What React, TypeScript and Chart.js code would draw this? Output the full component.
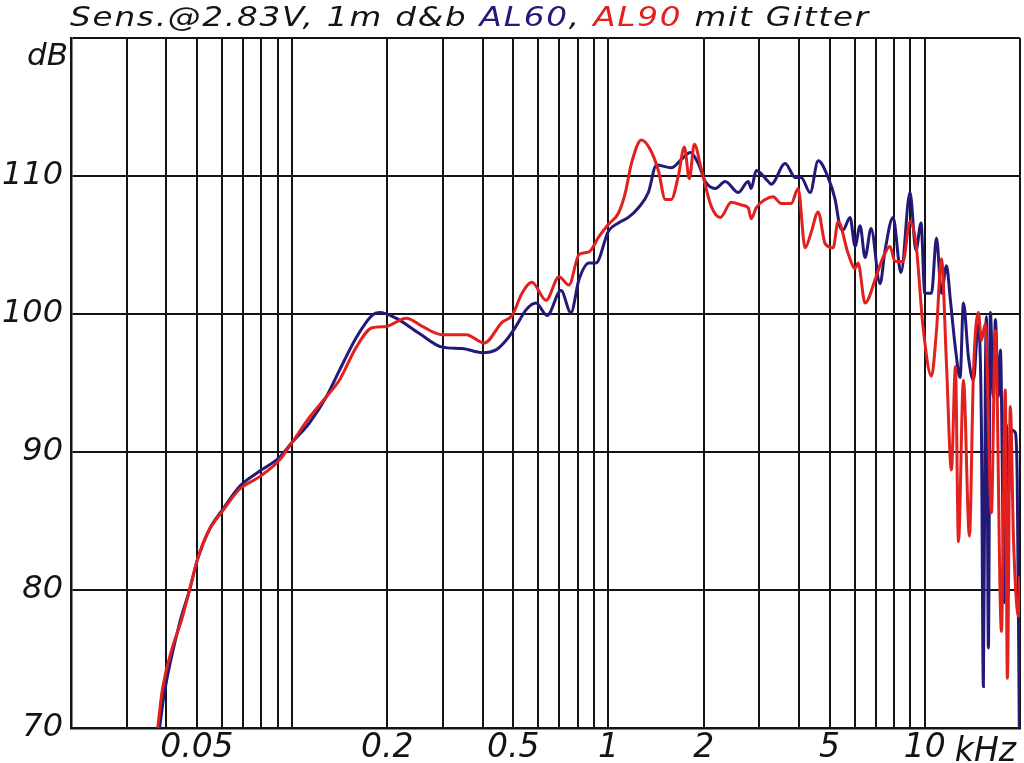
import React, { useEffect, useRef } from 'react';
import { Chart, registerables } from 'chart.js';

Chart.register(...registerables);

// ---- data (frequency in kHz, level in dB) ----
const freqAL60 = [
  0.0381, 0.0395, 0.0441, 0.0474, 0.0502, 0.0548, 0.0602, 0.0682, 0.0788, 0.0911,
  0.1, 0.1134, 0.1283, 0.141, 0.1596, 0.179, 0.1886, 0.213, 0.252, 0.298,
  0.345, 0.399, 0.441, 0.475, 0.51, 0.549, 0.59, 0.64, 0.708, 0.761,
  0.807, 0.868, 0.913, 1.0, 1.075, 1.156, 1.244, 1.337, 1.418, 1.58,
  1.7, 1.815, 1.923, 2.024, 2.177, 2.34, 2.573, 2.766, 2.827, 2.932,
  3.199, 3.27, 3.62, 3.894, 4.067, 4.342, 4.601, 4.947, 5.206, 5.399,
  5.518, 5.806, 6.021, 6.244, 6.475, 6.764, 7.222, 7.489, 7.937, 8.41,
  8.98, 9.38, 9.73, 10.0, 10.5, 10.89, 11.29, 11.71, 12.05, 12.5,
  12.93, 13.25, 13.74, 14.25, 14.77, 15.1, 15.32, 15.54, 15.66, 15.89,
  16.12, 16.48, 16.72, 17.09, 17.34, 17.85, 18.1, 18.37, 18.78, 19.33,
  19.6, 19.9,
];
const dbAL60 = [
  70.0, 72.6, 77.6, 80.0, 82.2, 84.4, 85.8, 87.5, 88.6, 89.6,
  90.7, 92.1, 94.0, 95.9, 98.3, 99.9, 100.1, 99.7, 98.6, 97.6,
  97.5, 97.2, 97.4, 98.1, 99.1, 100.3, 100.8, 99.9, 101.7, 100.1,
  102.5, 103.7, 103.7, 106.0, 106.6, 107.0, 107.7, 108.8, 110.8, 110.6,
  111.2, 111.7, 110.9, 109.6, 109.1, 109.6, 108.8, 109.6, 109.1, 110.4,
  109.6, 109.4, 110.9, 109.9, 109.9, 108.8, 111.1, 109.9, 108.3, 106.3,
  106.1, 107.0, 104.9, 106.4, 104.1, 106.2, 102.2, 104.6, 107.0, 103.0,
  108.8, 104.6, 106.6, 101.5, 101.5, 105.5, 101.5, 103.5, 101.0, 97.5,
  95.4, 100.8, 96.9, 95.2, 99.3, 92.0, 73.0, 95.0, 99.8, 75.8,
  100.1, 94.0, 99.6, 94.0, 97.4, 79.1, 92.0, 87.0, 91.6, 91.4,
  88.0, 70.0,
];
const freqAL90 = [
  0.0376, 0.0389, 0.0419, 0.0447, 0.0474, 0.0502, 0.0548, 0.0602, 0.0682, 0.0788,
  0.0911, 0.1, 0.1134, 0.1283, 0.141, 0.1596, 0.179, 0.1985, 0.2295, 0.258,
  0.298, 0.355, 0.405, 0.461, 0.496, 0.533, 0.573, 0.635, 0.698, 0.75,
  0.807, 0.868, 0.933, 1.0, 1.075, 1.131, 1.182, 1.271, 1.357, 1.438,
  1.513, 1.58, 1.663, 1.738, 1.802, 1.868, 1.966, 2.114, 2.257, 2.445,
  2.63, 2.766, 2.827, 2.932, 3.131, 3.318, 3.516, 3.782, 3.978, 4.186,
  4.373, 4.601, 4.842, 5.131, 5.321, 5.722, 6.021, 6.155, 6.475, 7.015,
  7.38, 7.765, 8.052, 8.534, 8.98, 9.38, 9.87, 10.5, 10.89, 11.29,
  11.71, 12.14, 12.5, 12.78, 13.25, 13.84, 14.25, 14.77, 15.1, 15.54,
  16.24, 16.72, 17.47, 17.97, 18.24, 18.64, 19.08, 19.8, 19.95,
];
const dbAL90 = [
  70.0, 72.8, 75.9, 77.8, 80.0, 82.2, 84.4, 85.7, 87.3, 88.2,
  89.4, 90.7, 92.5, 94.0, 95.2, 97.6, 99.0, 99.1, 99.7, 99.1,
  98.5, 98.5, 97.9, 99.4, 99.9, 101.5, 102.3, 101.0, 102.7, 102.1,
  104.3, 104.5, 105.6, 106.5, 107.3, 108.8, 110.9, 112.6, 111.9, 110.4,
  108.3, 108.3, 110.0, 112.1, 109.8, 112.3, 110.5, 107.8, 107.0, 108.1,
  107.9, 107.7, 106.9, 107.7, 108.3, 108.5, 108.0, 108.0, 109.1, 104.8,
  105.9, 107.4, 105.1, 104.8, 106.7, 104.4, 103.3, 103.7, 100.8, 102.7,
  104.1, 104.9, 103.8, 103.8, 106.7, 105.1, 99.1, 95.5, 98.8, 104.0,
  96.4, 88.7, 96.2, 83.5, 95.2, 83.9, 95.7, 100.1, 98.1, 99.3,
  85.6, 98.8, 77.0, 94.5, 73.6, 93.3, 83.6, 78.1, 81.0,
];

const xGridValues = [
  0.02, 0.03, 0.04, 0.05, 0.06, 0.07, 0.08, 0.09,
  0.1, 0.2, 0.3, 0.4, 0.5, 0.6, 0.7, 0.8, 0.9,
  1, 2, 3, 4, 5, 6, 7, 8, 9,
  10, 20,
];
const xTickValues = [0.05, 0.2, 0.5, 1, 2, 5, 10];
const xTickLabels = ['0.05', '0.2', '0.5', '1', '2', '5', '10'];
const yTickValues = [70, 80, 90, 100, 110, 120];
const yTickLabels = ['70', '80', '90', '100', '110', ''];

const BLUE = '#231a78';
const RED = '#e2201e';
const INK = '#141414';

const titleParts = [
  { text: 'Sens.@2.83V, 1m d&b ', color: INK },
  { text: 'AL60', color: BLUE },
  { text: ', ', color: INK },
  { text: 'AL90', color: RED },
  { text: ' mit Gitter', color: INK },
];

const FONT = '"DejaVu Sans", "Liberation Sans", sans-serif';

const textPlugin = {
  id: 'extraTexts',
  afterDraw(chart: any) {
    const ctx = chart.ctx as CanvasRenderingContext2D;
    const area = chart.chartArea;
    ctx.save();
    // title: slightly stretched glyphs + a little tracking to span the plot width
    ctx.font = `italic 27px ${FONT}`;
    ctx.textBaseline = 'alphabetic';
    ctx.textAlign = 'left';
    const full = titleParts.map((p) => p.text).join('');
    (ctx as any).letterSpacing = '1.5px';
    const w0 = ctx.measureText(full).width;
    const sx = 800 / w0;
    ctx.translate(area.left - 1, 26);
    ctx.scale(sx, 1);
    let x = 0;
    for (const p of titleParts) {
      ctx.fillStyle = p.color;
      ctx.fillText(p.text, x, 0);
      x += ctx.measureText(p.text).width;
    }
    ctx.restore();
    ctx.save();
    (ctx as any).letterSpacing = '0px';
    // dB unit
    ctx.fillStyle = INK;
    ctx.font = `italic 31px ${FONT}`;
    ctx.textAlign = 'right';
    ctx.textBaseline = 'alphabetic';
    ctx.fillText('dB', area.left - 3, 65);
    // kHz unit
    ctx.font = `italic 33px ${FONT}`;
    ctx.textAlign = 'left';
    const x10 = chart.scales.x.getPixelForValue(10);
    ctx.fillText('kHz', x10 + 30, area.bottom + 33);
    ctx.restore();
  },
};

export default function App() {
  const ref = useRef<HTMLCanvasElement>(null);
  useEffect(() => {
    const canvas = ref.current;
    if (!canvas) return;
    const chart = new Chart(canvas, {
      type: 'line',
      data: {
        datasets: [
          {
            label: 'AL90',
            data: freqAL90.map((f, i) => ({ x: f, y: dbAL90[i] })),
            borderColor: RED,
            borderWidth: 3,
            pointRadius: 0,
            cubicInterpolationMode: 'monotone',
            order: 0,
          },
          {
            label: 'AL60',
            data: freqAL60.map((f, i) => ({ x: f, y: dbAL60[i] })),
            borderColor: BLUE,
            borderWidth: 3,
            pointRadius: 0,
            cubicInterpolationMode: 'monotone',
            order: 1,
          },
        ],
      },
      options: {
        animation: false,
        responsive: false,
        devicePixelRatio: 1,
        layout: { padding: { top: 38, right: 4, left: 0, bottom: 0 } },
        plugins: {
          legend: { display: false },
          title: { display: false },
          tooltip: { enabled: false },
        },
        scales: {
          x: {
            type: 'logarithmic',
            min: 0.02,
            max: 20,
            afterBuildTicks: (scale: any) => {
              scale.ticks = xGridValues.map((v) => ({ value: v }));
            },
            afterFit: (scale: any) => {
              scale.height = 35;
            },
            grid: { color: INK, lineWidth: 2, drawTicks: false },
            border: { display: true, color: INK, width: 2.5 },
            ticks: {
              autoSkip: false,
              maxRotation: 0,
              padding: 1,
              color: INK,
              font: { family: FONT, size: 33, style: 'italic' },
              callback: (value: any) => {
                const i = xTickValues.findIndex((v) => Math.abs(v - Number(value)) < 1e-9);
                return i >= 0 ? xTickLabels[i] : '';
              },
            },
          },
          y: {
            type: 'linear',
            min: 70,
            max: 120,
            afterBuildTicks: (scale: any) => {
              scale.ticks = yTickValues.map((v) => ({ value: v }));
            },
            afterFit: (scale: any) => {
              scale.width = 71;
            },
            grid: { color: INK, lineWidth: 2, drawTicks: false },
            border: { display: true, color: INK, width: 2.5 },
            ticks: {
              padding: 8,
              color: INK,
              font: { family: FONT, size: 32, style: 'italic' },
              callback: (value: any) => {
                const i = yTickValues.indexOf(Number(value));
                return i >= 0 ? yTickLabels[i] : '';
              },
            },
          },
        },
      } as any,
      plugins: [textPlugin],
    });
    return () => chart.destroy();
  }, []);
  return (
    <div style={{ position: 'fixed', left: 0, top: 0, width: 1024, height: 763, background: '#fff' }}>
      <canvas ref={ref} width={1024} height={763} style={{ display: 'block' }} />
    </div>
  );
}
